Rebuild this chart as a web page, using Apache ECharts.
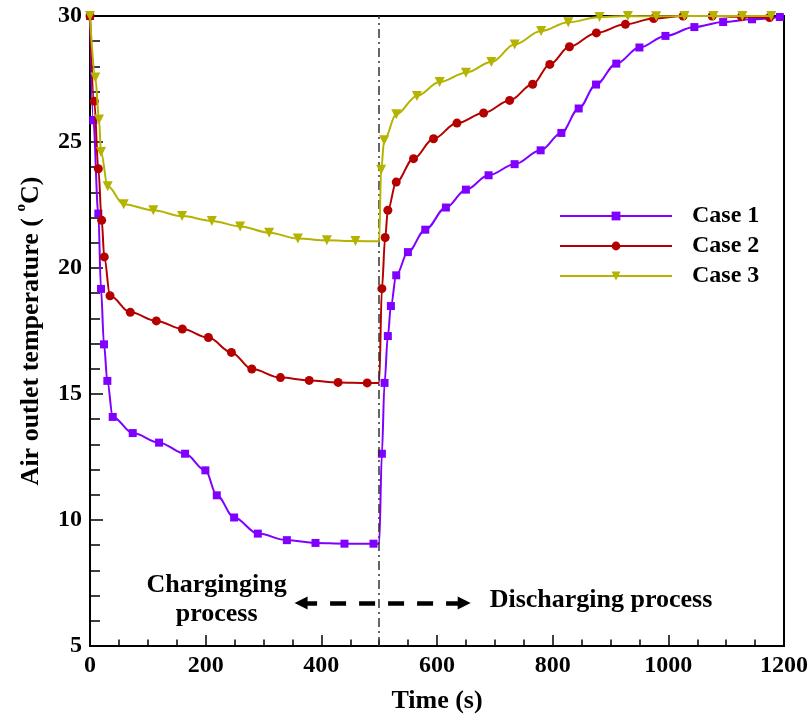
<!DOCTYPE html>
<html>
<head>
<meta charset="utf-8">
<script src="https://cdn.jsdelivr.net/npm/echarts@6/dist/echarts.min.js"></script>
<style>
  html, body { margin: 0; padding: 0; background: #fff; }
  #chart { width: 812px; height: 721px; }
</style>
</head>
<body>
<div id="chart"></div>
<script>
// ---- data -------------------------------------------------------------
const switchTime = 500; // end of charging, start of discharging (s)

const seriesNames = ['Case 1', 'Case 2', 'Case 3'];

const case1Time = [0, 5.7, 14.4, 19, 24.2, 30, 39.3, 73.9, 119.4, 164.4, 199.5, 219.2, 249.2, 290.2, 340.4, 389.9, 440, 490.2,
  500, 504.7, 509.3, 515, 520.3, 529.5, 549.7, 579.7, 615.4, 650, 689.2, 734.2, 779.2, 815, 845, 875, 910, 950, 995, 1045, 1094.8, 1144.7, 1192.8];
const case1Temp = [30, 25.86, 22.16, 19.17, 16.97, 15.52, 14.09, 13.45, 13.07, 12.63, 11.97, 10.98, 10.10, 9.46, 9.20, 9.09, 9.06, 9.06,
  9.06, 12.63, 15.44, 17.30, 18.49, 19.71, 20.63, 21.52, 22.40, 23.11, 23.68, 24.12, 24.67, 25.36, 26.33, 27.28, 28.11, 28.75, 29.21, 29.56, 29.76, 29.87, 29.96];

const case2Time = [0, 7.4, 14.4, 20.2, 24.7, 34.6, 69.7, 114.7, 159.7, 204.7, 244.5, 279.8, 329.3, 379, 429, 479.3,
  500, 504.7, 510.4, 515, 529.5, 559.4, 594, 634.5, 680.6, 725.6, 765.4, 795, 829, 875.6, 925.8, 974.7, 1025.5, 1075.8, 1126.5, 1175];
const case2Temp = [30, 26.62, 23.94, 21.89, 20.44, 18.90, 18.24, 17.90, 17.58, 17.24, 16.65, 15.99, 15.65, 15.54, 15.46, 15.44,
  15.44, 19.18, 21.21, 22.29, 23.41, 24.34, 25.13, 25.75, 26.15, 26.65, 27.29, 28.08, 28.78, 29.33, 29.67, 29.90, 30.0, 30.0, 29.97, 29.94];

const case3Time = [0, 9.2, 15.6, 19, 30.6, 58.3, 109.5, 159.2, 210.6, 259.6, 309.7, 359.4, 409.6, 459,
  500, 503.4, 508.7, 529.5, 565.3, 604.5, 650, 694, 734.3, 780, 827, 881, 930, 979, 1028, 1078, 1128, 1178];
const case3Temp = [30, 27.56, 25.89, 24.60, 23.24, 22.53, 22.29, 22.06, 21.87, 21.65, 21.40, 21.17, 21.10, 21.07,
  21.06, 23.90, 25.07, 26.10, 26.83, 27.38, 27.75, 28.17, 28.87, 29.40, 29.75, 29.96, 30.0, 29.99, 30.0, 30.0, 30.0, 30.0];

const xTickLabels = [0, 200, 400, 600, 800, 1000, 1200];
const yTickLabels = [5, 10, 15, 20, 25, 30];

// ---- styling ----------------------------------------------------------
const serif = '"Liberation Serif", "Times New Roman", Times, serif';
const colors = ['#8000ff', '#b50000', '#b3b300'];
const black = '#000';

// the step point at switchTime carries no marker
function buildData(times, temps) {
  return times.map((t, i) => t === switchTime
    ? { value: [t, temps[i]], symbol: 'none' }
    : [t, temps[i]]);
}

function caseSeries(idx, times, temps, symbol, size, rotate) {
  return {
    name: seriesNames[idx],
    type: 'line',
    data: buildData(times, temps),
    smooth: 0.35,
    smoothMonotone: 'x',
    symbol: symbol,
    symbolSize: size,
    symbolRotate: rotate,
    showAllSymbol: true,
    color: colors[idx],
    lineStyle: { width: 2, color: colors[idx] },
    itemStyle: { color: colors[idx] },
    z: 3 + idx,
    emphasis: { disabled: true }
  };
}

const chart = echarts.init(document.getElementById('chart'), null, { renderer: 'canvas' });

const axisFont = { color: black, fontFamily: serif, fontWeight: 'bold', fontSize: 24, formatter: (v) => String(v) };

const option = {
  animation: false,
  backgroundColor: '#fff',
  grid: { left: 90, right: 28, top: 16, bottom: 75, show: true, borderColor: black, borderWidth: 2, backgroundColor: 'transparent' },
  xAxis: {
    type: 'value',
    min: xTickLabels[0],
    max: xTickLabels[xTickLabels.length - 1],
    interval: xTickLabels[1] - xTickLabels[0],
    axisLine: { lineStyle: { color: black, width: 2 } },
    axisTick: { inside: true, length: 11, lineStyle: { color: black, width: 1.5 } },
    minorTick: { show: true, splitNumber: 4, length: 6.5, lineStyle: { color: black, width: 1.5 } },
    splitLine: { show: false },
    axisLabel: Object.assign({ margin: 8 }, axisFont),
    name: 'Time (s)',
    nameLocation: 'middle',
    nameGap: 42,
    nameTextStyle: { color: black, fontFamily: serif, fontWeight: 'bold', fontSize: 26 }
  },
  yAxis: {
    type: 'value',
    min: yTickLabels[0],
    max: yTickLabels[yTickLabels.length - 1],
    interval: yTickLabels[1] - yTickLabels[0],
    axisLine: { lineStyle: { color: black, width: 2 } },
    axisTick: { inside: true, length: 13, lineStyle: { color: black, width: 1.5 } },
    minorTick: { show: true, splitNumber: 5, length: 10, lineStyle: { color: black, width: 1.5 } },
    splitLine: { show: false },
    axisLabel: Object.assign({ margin: 8 }, axisFont),
    name: '{t|Air outlet temperature ( }{s|o}{t|C)}',
    nameLocation: 'middle',
    nameGap: 46,
    nameTextStyle: {
      rich: {
        t: { color: black, fontFamily: serif, fontWeight: 'bold', fontSize: 26, lineHeight: 30, verticalAlign: 'bottom' },
        s: { color: black, fontFamily: serif, fontWeight: 'bold', fontSize: 15, lineHeight: 16, verticalAlign: 'top' }
      }
    }
  },
  legend: {
    orient: 'vertical',
    left: 554,
    top: 198,
    itemWidth: 112,
    itemHeight: 11,
    itemGap: 4,
    data: seriesNames,
    textStyle: { color: black, fontFamily: serif, fontWeight: 'bold', fontSize: 24, lineHeight: 26, padding: [0, 0, 0, 15] }
  },
  series: [
    caseSeries(0, case1Time, case1Temp, 'rect', 8, 0),
    caseSeries(1, case2Time, case2Temp, 'circle', 9, 0),
    caseSeries(2, case3Time, case3Temp, 'triangle', 10, 180),
    {
      name: 'phase markers',
      type: 'line',
      data: [],
      silent: true,
      markLine: {
        silent: true,
        symbol: ['none', 'none'],
        label: { show: false },
        emphasis: { disabled: true },
        animation: false,
        data: [
          // charging / discharging boundary
          [
            { coord: [switchTime, yTickLabels[0]], lineStyle: { color: '#333', width: 1.5, type: [9, 4, 2, 4] } },
            { coord: [switchTime, yTickLabels[yTickLabels.length - 1]] }
          ],
          // double-headed dashed arrow
          [
            { coord: [365, 6.71], symbol: 'triangle', symbolSize: [13, 13], lineStyle: { color: black, width: 4.5, type: [16, 13] } },
            { coord: [647, 6.71], symbol: 'triangle', symbolSize: [13, 13] }
          ]
        ]
      }
    }
  ]
};

chart.setOption(option);

// phase labels, anchored in data space
const chargeLabelAt = [219, 6.83];
const dischargeLabelAt = [691, 6.81];
const p1 = chart.convertToPixel({ gridIndex: 0 }, chargeLabelAt);
const p2 = chart.convertToPixel({ gridIndex: 0 }, dischargeLabelAt);
const labelStyle = { fill: black, fontFamily: serif, fontWeight: 'bold', fontSize: 26 };

chart.setOption({
  graphic: [
    {
      type: 'text', x: p1[0], y: p1[1], silent: true,
      style: Object.assign({ text: 'Charginging\nprocess', align: 'center', verticalAlign: 'middle', lineHeight: 29 }, labelStyle)
    },
    {
      type: 'text', x: p2[0], y: p2[1], silent: true,
      style: Object.assign({ text: 'Discharging process', align: 'left', verticalAlign: 'middle' }, labelStyle)
    }
  ]
});
</script>
</body>
</html>
